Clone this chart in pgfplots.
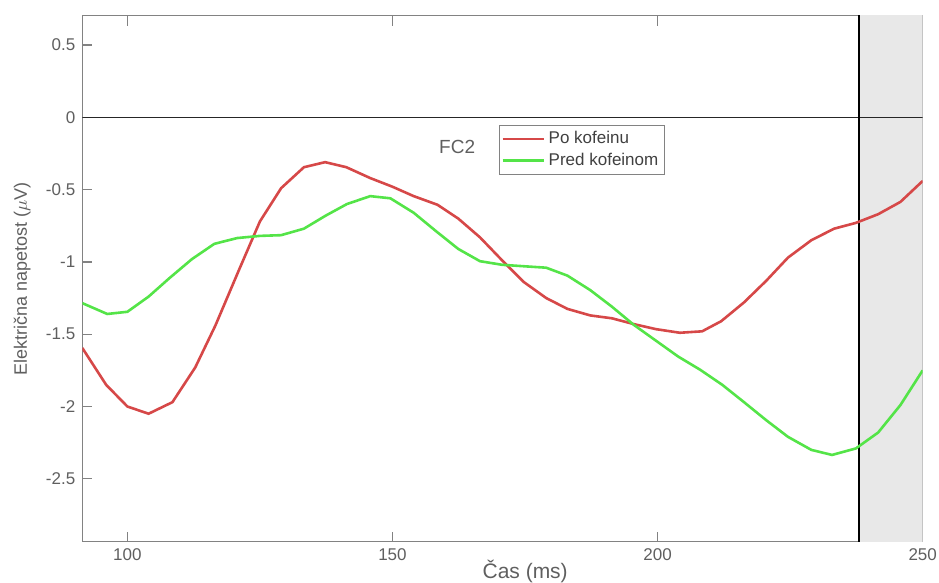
\documentclass[border=0pt]{standalone}
\usepackage{fontspec}
\setmainfont{Liberation Sans}
\usepackage{pgfplots}
\pgfplotsset{compat=1.18}
\definecolor{redc}{RGB}{214,72,72}
\definecolor{greenc}{RGB}{84,228,72}
\definecolor{axgray}{RGB}{130,130,130}
\definecolor{txtgray}{RGB}{95,95,95}
\definecolor{shade}{RGB}{232,232,232}
\begin{document}
\begin{tikzpicture}
\useasboundingbox (-41.15pt,-20.65pt) rectangle (428.35pt,270.85pt);
\begin{axis}[
  scale only axis,
  width=420.2pt, height=263pt,
  xmin=91.5, xmax=250,
  ymin=-2.935, ymax=0.703,
  xtick={100,150,200,250},
  ytick={-2.5,-2,-1.5,-1,-0.5,0,0.5},
  yticklabels={-2.5,-2,-1.5,-1,-0.5,0,0.5},
  xticklabels={100,150,200,250},
  tick pos=both,
  tick align=inside,
  major tick length=5pt,
  axis line style={axgray, line width=0.7pt},
  every tick/.style={axgray, line width=0.6pt},
  tick label style={font=\fontsize{8.5}{10}\selectfont, text=txtgray},
  /pgf/number format/assume math mode=true,
  xlabel={Čas (ms)},
  ylabel={Električna napetost ($\mu$V)},
  xlabel style={font=\fontsize{10.5}{12}\selectfont, text=txtgray, at={(axis description cs:0.527,-0.057)}, anchor=center},
  ylabel style={font=\fontsize{9}{11}\selectfont, text=txtgray, at={(axis description cs:-0.0714,0.5)}, anchor=center},
  legend style={at={(axis cs:170.1,-0.053)}, anchor=north west, draw=axgray, line width=0.5pt, fill=white,
    font=\fontsize{8.5}{9.5}\selectfont, text=black!75, inner sep=1pt, row sep=-1pt, cells={anchor=west}},
  legend image code/.code={\draw[#1, line width=1.1pt] (0cm,0cm) -- (0.72cm,0cm);},
  clip=true,
]
\addplot[fill=shade, draw=none, forget plot] coordinates {(237.9,-3) (250,-3) (250,1) (237.9,1)} -- cycle;
\addplot[black!85, line width=0.6pt, forget plot] coordinates {(91.5,0) (250,0)};
\addplot[black, line width=1pt, forget plot] coordinates {(237.9,-3) (237.9,1)};
\addplot[redc, line width=1.3pt] coordinates {
(91.5,-1.595) (96,-1.85) (100,-2.00) (104,-2.05) (108.5,-1.97) (112.8,-1.73)
(116.6,-1.44) (121,-1.06) (125,-0.72) (129,-0.49) (133.3,-0.345) (137.3,-0.31)
(141.3,-0.345) (145.8,-0.42) (150,-0.48) (154,-0.545) (158.5,-0.605) (162.4,-0.70)
(166.5,-0.83) (170.7,-0.99) (174.8,-1.14) (179,-1.25) (183,-1.325) (187.3,-1.37)
(191.4,-1.39) (195.5,-1.43) (199.7,-1.465) (204.2,-1.49) (208.4,-1.48) (212,-1.41)
(216.3,-1.28) (220.5,-1.13) (224.6,-0.97) (229,-0.85) (233.3,-0.77) (237.4,-0.73)
(241.6,-0.67) (245.8,-0.585) (250,-0.44)};
\addlegendentry{Po kofeinu}
\addplot[greenc, line width=1.3pt] coordinates {
(91.5,-1.285) (96.2,-1.36) (100,-1.345) (104,-1.24) (108,-1.11) (112.2,-0.98)
(116.4,-0.875) (120.7,-0.835) (125,-0.82) (129,-0.815) (133.3,-0.77) (137.4,-0.68)
(141.4,-0.60) (145.8,-0.545) (149.6,-0.56) (154,-0.66) (158.3,-0.79) (162.4,-0.91)
(166.5,-0.995) (170.7,-1.02) (174.8,-1.03) (179,-1.04) (183,-1.095) (187.3,-1.195)
(191.4,-1.31) (195.5,-1.435) (199.7,-1.545) (203.9,-1.655) (208,-1.745) (212.2,-1.85)
(216.3,-1.97) (220.5,-2.095) (224.6,-2.21) (229,-2.30) (232.9,-2.335) (237.4,-2.29)
(241.6,-2.18) (245.8,-1.99) (250,-1.75)};
\addlegendentry{Pred kofeinom}
\node[font=\fontsize{9.5}{11}\selectfont, text=txtgray] at (axis cs:162.2,-0.205) {FC2};
\end{axis}
\end{tikzpicture}
\end{document}
